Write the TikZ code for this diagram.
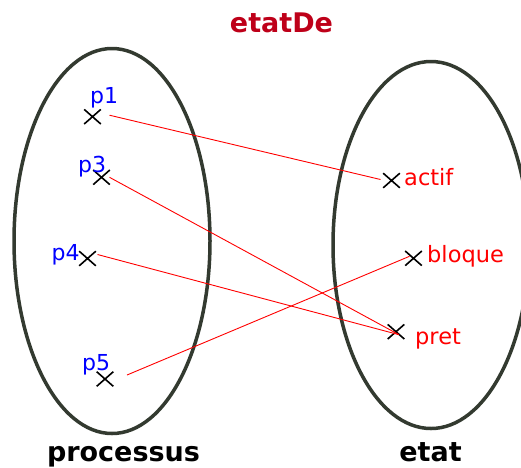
\documentclass[tikz,border=0pt]{standalone}
\usepackage{fontspec}
\setmainfont{DejaVu Sans}
\usetikzlibrary{shapes.geometric,shapes.misc}
\definecolor{titre}{RGB}{190,0,25}
\definecolor{trait}{RGB}{51,58,48}

\begin{document}
\begin{tikzpicture}[
  x=1pt, y=-1pt,
  ens/.style={draw=trait, ellipse, line width=3.5pt, inner sep=0pt},
  croix/.style={draw, cross out, line width=1.6pt, minimum width=15pt, minimum height=13pt, inner sep=0pt},
  lblp/.style={anchor=base west, inner sep=0pt, text=blue, font=\fontsize{22}{26}\selectfont},
  lble/.style={anchor=base west, inner sep=0pt, text=red, font=\fontsize{22.5}{26}\selectfont},
  titre/.style={anchor=base, inner sep=0pt, font=\fontsize{27}{32}\selectfont\bfseries},
  lien/.style={red, line width=0.9pt}
]
\useasboundingbox (0,0) rectangle (521,467);
% les deux ensembles
\node[ens, minimum width=196pt, minimum height=385pt] (proc) at (112,241) {};
\node[ens, minimum width=196pt, minimum height=367pt] (etat) at (431,245) {};
\node[titre, text=titre] (nom) at (281.5,32) {etatDe};
\node[titre] (lproc) at (123.5,461) {processus};
\node[titre] (letat) at (430.5,461) {etat};
% processus
\node[croix] (p1) at (92.5,116.7) {};
\node[croix] (p3) at (101.5,177.3) {};
\node[croix] (p4) at (87.5,258.5) {};
\node[croix] (p5) at (105,379) {};
\node[lblp] (lp1) at (90,103) {p1};
\node[lblp] (lp3) at (78,172.5) {p3};
\node[lblp] (lp4) at (51.5,260.5) {p4};
\node[lblp] (lp5) at (82,370.5) {p5};
% etats
\node[croix] (actif) at (391.5,180.5) {};
\node[croix] (bloque) at (413.5,258.3) {};
\node[croix] (pret) at (396,331.7) {};
\node[lble] (lactif) at (404,185) {actif};
\node[lble] (lbloque) at (427,262) {bloque};
\node[lble] (lpret) at (415,344) {pret};
% la relation
\draw[lien] ([xshift=17pt,yshift=1.5pt]p1.center) -- ([xshift=-11pt,yshift=1pt]actif.center);
\draw[lien] ([xshift=8pt]p3.center) -- ([xshift=3pt,yshift=-3pt]pret.center);
\draw[lien] ([xshift=10pt,yshift=4pt]p4.center) -- ([xshift=3pt,yshift=-3pt]pret.center);
\draw[lien] ([xshift=22pt,yshift=4pt]p5.center) -- ([xshift=-4pt,yshift=2pt]bloque.center);
\end{tikzpicture}
\end{document}
